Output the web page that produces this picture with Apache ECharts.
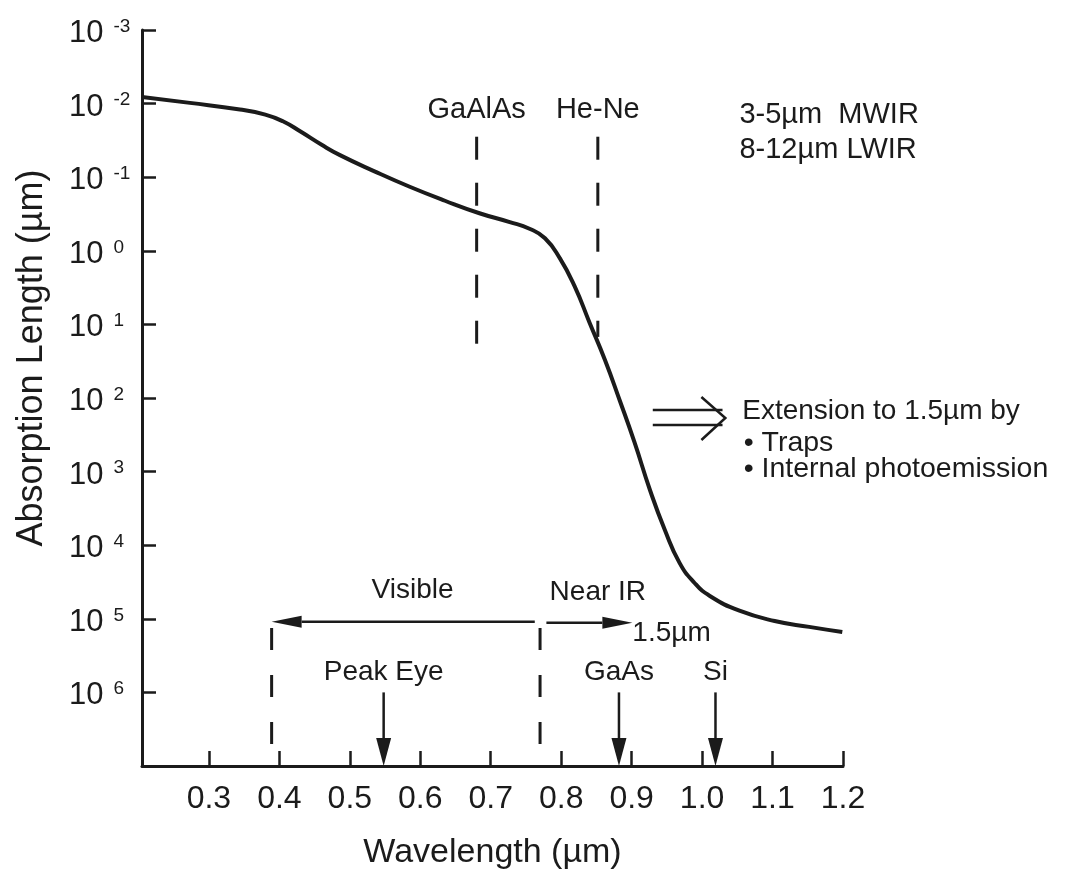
<!DOCTYPE html>
<html>
<head>
<meta charset="utf-8">
<script src="https://cdn.jsdelivr.net/npm/echarts@6/dist/echarts.min.js"></script>
<style>
  html, body { margin: 0; padding: 0; background: #fff; }
  #chart { width: 1065px; height: 876px; }
</style>
</head>
<body>
<div id="chart"></div>
<script>
// Absorption length of silicon vs wavelength (length stored as log10 of µm)
const wavelength = [0.205, 0.273, 0.344, 0.380, 0.405, 0.430, 0.460, 0.486, 0.535, 0.585, 0.635,
                    0.684, 0.727, 0.755, 0.777, 0.798, 0.819, 0.840, 0.862, 0.883, 0.904,
                    0.926, 0.947, 0.968, 0.989, 1.011, 1.053, 1.103, 1.152, 1.199];
const logAbsorptionLength = [-2.09, -2.01, -1.92, -1.85, -1.76, -1.62, -1.44, -1.30, -1.08, -0.87, -0.68,
                             -0.51, -0.39, -0.30, -0.17, 0.10, 0.48, 0.97, 1.48, 2.03, 2.60,
                             3.25, 3.79, 4.24, 4.51, 4.69, 4.89, 5.03, 5.11, 5.18];

// Axis ticks
const wavelengthTicks = [0.3, 0.4, 0.5, 0.6, 0.7, 0.8, 0.9, 1.0, 1.1, 1.2];
const exponentTicks = [-3, -2, -1, 0, 1, 2, 3, 4, 5, 6];

// Laser lines (wavelength, top and bottom in log10 µm)
const laserNames = ['GaAlAs', 'He-Ne'];
const laserWavelength = [0.680, 0.852];
const laserTop = [-1.55, -1.55];
const laserBottom = [1.31, 1.17];

// Visible band edges
const bandEdges = [0.389, 0.770];
const bandEdgeTop = 5.125;
const bandEdgeBottom = 6.715;

// Peak / band-gap markers
const markerNames = ['Peak Eye', 'GaAs', 'Si'];
const markerWavelength = [0.548, 0.882, 1.019];

const FONT = '"Liberation Sans", Arial, Helvetica, sans-serif';
const INK = '#1b1b1b';

const chart = echarts.init(document.getElementById('chart'), null, { renderer: 'canvas' });

chart.setOption({
  animation: false,
  backgroundColor: '#ffffff',
  grid: { left: 142, top: 30, right: 222, bottom: 110, containLabel: false },
  xAxis: {
    type: 'value',
    min: 0.205,
    max: 1.2,
    name: 'Wavelength (µm)',
    nameLocation: 'middle',
    nameGap: 70,
    nameTextStyle: { fontFamily: FONT, fontSize: 34, color: INK },
    axisLine: { onZero: false, lineStyle: { color: INK, width: 3 } },
    axisTick: { customValues: wavelengthTicks, inside: true, length: 15, lineStyle: { color: INK, width: 2.5 } },
    axisLabel: {
      customValues: wavelengthTicks,
      formatter: v => v.toFixed(1),
      fontFamily: FONT, fontSize: 32, color: INK, margin: 17
    },
    splitLine: { show: false }
  },
  yAxis: {
    type: 'value',
    inverse: true,
    min: -3,
    max: 7,
    interval: 1,
    name: 'Absorption Length (µm)',
    nameLocation: 'middle',
    nameGap: 92,
    nameTextStyle: { fontFamily: FONT, fontSize: 36, color: INK, padding: [0, 0, 0, 80] },
    axisLine: { onZero: false, lineStyle: { color: INK, width: 3 } },
    axisTick: { inside: true, length: 14, lineStyle: { color: INK, width: 2.5 } },
    axisLabel: {
      align: 'left',
      margin: 73,
      formatter: v => exponentTicks.includes(v) ? '{b|10}{s|' + v + '}' : '',
      rich: {
        b: { fontFamily: FONT, fontSize: 31, color: INK, lineHeight: 30, padding: [7, 0, 0, 0] },
        s: { fontFamily: FONT, fontSize: 19, color: INK, lineHeight: 19, verticalAlign: 'top', padding: [2, 0, 0, 10] }
      }
    },
    splitLine: { show: false }
  },
  series: [{
    type: 'line',
    data: wavelength.map((w, i) => [w, logAbsorptionLength[i]]),
    smooth: 0.5,
    symbol: 'none',
    lineStyle: { color: INK, width: 4 }
  }]
});

function px(x, y) { return chart.convertToPixel({ gridIndex: 0 }, [x, y]); }

function line(a, b, width, dash) {
  return {
    type: 'line', z: 50,
    shape: { x1: a[0], y1: a[1], x2: b[0], y2: b[1] },
    style: { stroke: INK, lineWidth: width, lineDash: dash || null }
  };
}

function arrow(a, b, headLen, headHalf, width) {
  const dx = b[0] - a[0], dy = b[1] - a[1];
  const len = Math.hypot(dx, dy), ux = dx / len, uy = dy / len;
  const base = [b[0] - ux * headLen, b[1] - uy * headLen];
  return [
    line(a, base, width),
    {
      type: 'polygon', z: 50,
      shape: { points: [b, [base[0] - uy * headHalf, base[1] + ux * headHalf], [base[0] + uy * headHalf, base[1] - ux * headHalf]] },
      style: { fill: INK }
    }
  ];
}

function text(str, p, align, size) {
  return {
    type: 'text', z: 60, x: p[0], y: p[1],
    style: { text: str, fontFamily: FONT, fontSize: size || 28, fill: INK, align: align || 'center', verticalAlign: 'middle' }
  };
}

function buildAnnotations() {
  const g = [];
  // laser wavelengths
  laserNames.forEach((n, i) => {
    g.push(line(px(laserWavelength[i], laserTop[i]), px(laserWavelength[i], laserBottom[i]), 3, [23, 23]));
    g.push(text(n, px(laserWavelength[i], -1.91), 'center', 29));
  });
  // visible band edges
  bandEdges.forEach(w => g.push(line(px(w, bandEdgeTop), px(w, bandEdgeBottom), 3, [22, 25])));
  // visible / near-IR arrows
  g.push(...arrow(px(0.7625, 5.04), px(bandEdges[0], 5.04), 30, 6, 2.5));
  g.push(...arrow(px(0.779, 5.053), px(0.901, 5.053), 30, 6, 2.5));
  g.push(text('Visible', px(0.589, 4.61)));
  g.push(text('Near IR', px(0.852, 4.64)));
  g.push(text('1.5µm', px(0.901, 5.19), 'left'));
  // downward markers
  markerNames.forEach((n, i) => {
    g.push(...arrow(px(markerWavelength[i], 6.0), px(markerWavelength[i], 7.0), 28, 7.5, 2.5));
    g.push(text(n, px(markerWavelength[i], 5.72)));
  });
  // extension double arrow
  g.push(line(px(0.930, 2.163), px(1.029, 2.163), 2.5));
  g.push(line(px(0.930, 2.367), px(1.029, 2.367), 2.5));
  g.push({
    type: 'polyline', z: 50,
    shape: { points: [px(0.999, 1.986), px(1.033, 2.272), px(0.999, 2.571)] },
    style: { stroke: INK, lineWidth: 2.5, fill: null }
  });
  g.push(text('Extension to 1.5µm by', px(1.057, 2.18), 'left'));
  g.push(text('• Traps', px(1.059, 2.61), 'left', 28.5));
  g.push(text('• Internal photoemission', px(1.059, 2.97), 'left', 28.5));
  // infrared bands
  g.push(text('3-5µm  MWIR', px(1.053, -1.85), 'left', 29));
  g.push(text('8-12µm LWIR', px(1.053, -1.37), 'left', 29));
  return g;
}

chart.setOption({ graphic: buildAnnotations() });
</script>
</body>
</html>
